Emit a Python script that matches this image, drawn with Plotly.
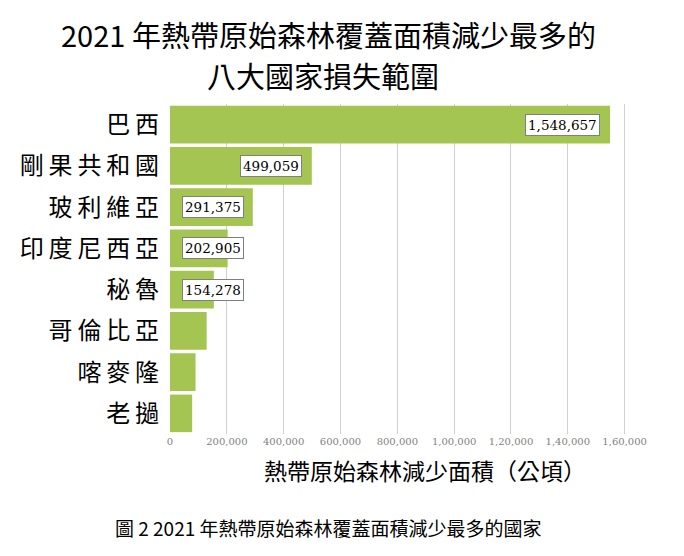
import plotly.graph_objects as go

countries = ["巴西", "剛果共和國", "玻利維亞", "印度尼西亞", "秘魯", "哥倫比亞", "喀麥隆", "老撾"]
loss_ha = [1548657, 499059, 291375, 202905, 154278, 129000, 90000, 78000]
labeled = [True, True, True, True, True, False, False, False]

tick_vals = [0, 200000, 400000, 600000, 800000, 1000000, 1200000, 1400000, 1600000]
tick_text = ["0", "200,000", "400,000", "600,000", "800,000", "1,00,000", "1,20,000", "1,40,000", "1,60,000"]

title_line1 = "2021 年熱帶原始森林覆蓋面積減少最多的"
title_line2 = "八大國家損失範圍"
xaxis_title = "熱帶原始森林減少面積（公頃）"
caption = "圖 2 2021 年熱帶原始森林覆蓋面積減少最多的國家"

CJK = "Noto Sans CJK TC"
SERIF = "DejaVu Serif"

# spaced category labels
cat_labels = ["\u2009".join(list(c)) for c in countries]

fig = go.Figure()
fig.add_trace(go.Bar(
    y=countries, x=loss_ha, orientation="h",
    marker=dict(color="#a5c552", line=dict(width=0)),
    hoverinfo="x+y",
))

L, R, T, B = 170, 58, 104, 122
W, H = 684, 556
plot_w = W - L - R
plot_h = H - T - B
xmax = 1600000 * 1.003
px_per_unit = plot_w / xmax


def px_x(px):
    return (px - L) / plot_w


def px_y(py):
    return (T + plot_h - py) / plot_h


annotations = []
for c, v, lab in zip(countries, loss_ha, labeled):
    if not lab:
        continue
    txt = f"{v:,}"
    box_w = len(txt) * 8.6 + 8
    bar_px = v * px_per_unit
    common = dict(y=c, xref="x", yref="y", text=txt, showarrow=False,
                  font=dict(family=SERIF, size=13.5, color="#000000"),
                  bgcolor="white", bordercolor="#7f7f7f", borderwidth=1, borderpad=2)
    if bar_px - 10 - box_w >= 12:
        annotations.append(dict(x=v, xanchor="right", xshift=-10, **common))
    else:
        annotations.append(dict(x=0, xanchor="left", xshift=12, **common))

annotations.append(dict(x=px_x(328), y=px_y(34), xref="paper", yref="paper",
                        text=title_line1, showarrow=False, xanchor="center", yanchor="middle",
                        font=dict(family=CJK, size=29, color="#000000")))
annotations.append(dict(x=px_x(323), y=px_y(75), xref="paper", yref="paper",
                        text=title_line2, showarrow=False, xanchor="center", yanchor="middle",
                        font=dict(family=CJK, size=29, color="#000000")))
annotations.append(dict(x=px_x(425), y=px_y(470), xref="paper", yref="paper",
                        text=xaxis_title, showarrow=False, xanchor="center", yanchor="middle",
                        font=dict(family=CJK, size=23, color="#000000")))
annotations.append(dict(x=px_x(328), y=px_y(527), xref="paper", yref="paper",
                        text=caption, showarrow=False, xanchor="center", yanchor="middle",
                        font=dict(family=CJK, size=19, color="#000000")))

fig.update_layout(
    width=W, height=H,
    margin=dict(l=L, r=R, t=T, b=B, autoexpand=False),
    paper_bgcolor="white", plot_bgcolor="white",
    bargap=0.09,
    showlegend=False,
    xaxis=dict(range=[0, xmax], tickvals=tick_vals, ticktext=tick_text,
               showgrid=True, gridcolor="#d0d0d0", gridwidth=1, zeroline=False,
               showline=False, ticks="",
               tickfont=dict(family=SERIF, size=10, color="#7f7f7f")),
    yaxis=dict(autorange="reversed", tickvals=countries, ticktext=cat_labels,
               showgrid=False, zeroline=False, showline=False, ticks="",
               ticklabelstandoff=10,
               tickfont=dict(family=CJK, size=24, color="#000000")),
    annotations=annotations,
)

fig.write_html("out.html")
